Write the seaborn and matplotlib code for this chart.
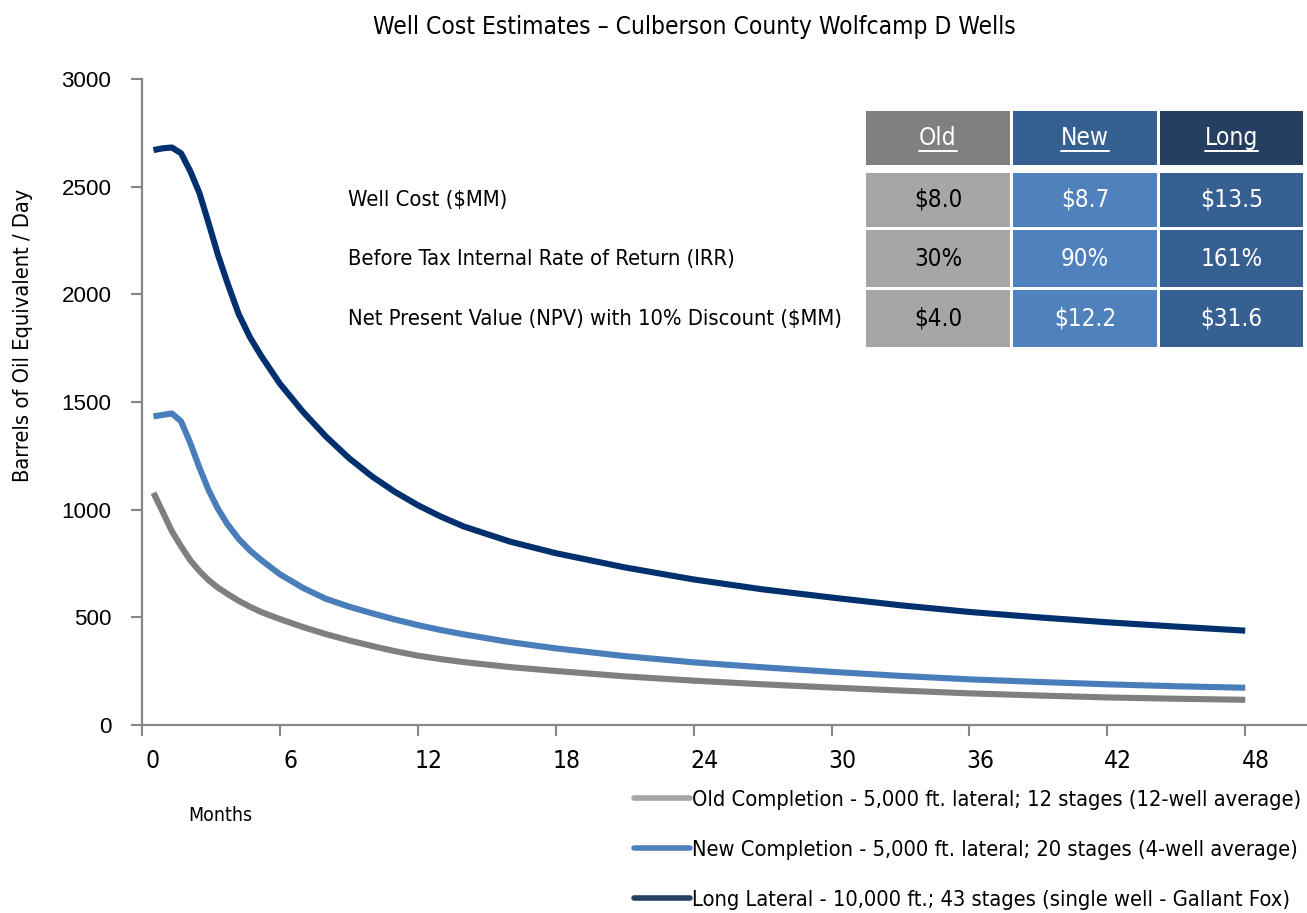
import numpy as np
import pandas as pd
import matplotlib
matplotlib.use("Agg")
import matplotlib.pyplot as plt
import matplotlib.transforms as mtransforms
from matplotlib import font_manager as fm
from matplotlib.lines import Line2D
from matplotlib.patches import Rectangle
import seaborn as sns

# production profiles, boe/day by month
months = [0.5, 0.9, 1.3, 1.7, 2.1, 2.5, 2.9, 3.3, 3.7, 4.2, 4.7, 5.2, 6, 7, 8, 9, 10, 11, 12,
          13, 14, 16, 18, 21, 24, 27, 30, 33, 36, 39, 42, 45, 48]
old_boe = [1078, 990, 900, 830, 765, 715, 672, 638, 610, 577, 549, 524, 492, 455, 422, 393, 367, 343, 322,
           306, 292, 269, 251, 226, 206, 189, 174, 160, 147, 137, 128, 122, 117]
new_boe = [1433, 1440, 1447, 1410, 1310, 1195, 1090, 1005, 935, 865, 810, 765, 700, 637, 586, 550, 519, 490, 464,
           441, 421, 385, 356, 320, 291, 268, 247, 228, 212, 200, 189, 180, 173]
long_boe = [2670, 2678, 2682, 2655, 2572, 2470, 2330, 2185, 2058, 1910, 1800, 1712, 1585, 1455, 1340, 1240, 1155, 1083, 1021,
            968, 922, 852, 798, 732, 676, 630, 592, 556, 525, 500, 477, 457, 438]

series_names = ["Old Completion - 5,000 ft. lateral; 12 stages (12-well average)",
                "New Completion - 5,000 ft. lateral; 20 stages (4-well average)",
                "Long Lateral - 10,000 ft.; 43 stages (single well - Gallant Fox)"]
line_colors = ["#7f7f7f", "#4a7ebb", "#00306e"]
legend_colors = ["#a6a6a6", "#4f81bd", "#243f60"]

x_ticks = [0, 6, 12, 18, 24, 30, 36, 42, 48]
y_ticks = [0, 500, 1000, 1500, 2000, 2500, 3000]

table_cols = ["Old", "New", "Long"]
table_rows = ["Well Cost ($MM)",
              "Before Tax Internal Rate of Return (IRR)",
              "Net Present Value (NPV) with 10% Discount ($MM)"]
table_vals = [["$8.0", "$8.7", "$13.5"],
              ["30%", "90%", "161%"],
              ["$4.0", "$12.2", "$31.6"]]
head_colors = ["#808080", "#376092", "#263f60"]
body_colors = ["#a6a6a6", "#4f81bd", "#376092"]
body_text = ["black", "white", "white"]

W, H = 1307, 913

# pick a narrow face if one is installed, else Liberation Sans
family, stretch = "Liberation Sans", "normal"
for f in fm.fontManager.ttflist:
    fn = f.fname.lower()
    if "narrow" in fn or "condensed" in fn or f.stretch in ("condensed", "semi-condensed"):
        if "mono" in fn or "serif" in fn or "bold" in fn or "oblique" in fn or "italic" in fn:
            continue
        family, stretch = f.name, f.stretch
        break

sns.set_theme(style="white")
plt.rcParams['font.family'] = [family, 'DejaVu Sans']
plt.rcParams['font.stretch'] = stretch
plt.rcParams['text.color'] = 'black'

def px(x, y):
    return x / W, 1 - y / H

df = pd.DataFrame({
    "month": months * 3,
    "boe": old_boe + new_boe + long_boe,
    "well": sum([[n] * len(months) for n in series_names], []),
})

fig = plt.figure(figsize=(W / 100, H / 100), dpi=100)
r = fig.canvas.get_renderer()

def width_of(t, vertical=False):
    bb = t.get_window_extent(r)
    return bb.height if vertical else bb.width

def fit(texts, target, vertical=False):
    k = target / width_of(texts[0], vertical)
    for t in texts:
        t.set_fontsize(t.get_fontsize() * k)

ax = fig.add_axes([142 / W, 1 - 725 / H, (W - 142) / W, (725 - 79) / H])
sns.lineplot(data=df, x="month", y="boe", hue="well", palette=dict(zip(series_names, line_colors)),
             linewidth=4.4, legend=False, estimator=None, ax=ax)
for l in ax.lines:
    l.set_solid_capstyle("butt")
    l.set_solid_joinstyle("round")

ax.set_xlim(0, (W - 142) / (137.9 / 6))
ax.set_ylim(0, 3000)
ax.set_xticks(x_ticks)
ax.set_yticks(y_ticks)
ax.set_xlabel("")
ax.set_ylabel("")
for s in ["top", "right"]:
    ax.spines[s].set_visible(False)
for s in ["left", "bottom"]:
    ax.spines[s].set_color("#878787")
    ax.spines[s].set_linewidth(1.6)
ax.tick_params(axis="both", direction="out", length=8, width=1.5, color="#878787",
               bottom=True, left=True, labelcolor="black")

# tick label sizes fitted to the reference
probe = fig.text(0, 0, "12", fontsize=20)
xs = 20 * 28 / width_of(probe)
probe.remove()
probe = fig.text(0, 0, "3000", fontsize=20, family="Liberation Sans", stretch="normal")
ys = 20 * 50 / width_of(probe)
probe.remove()
ax.tick_params(axis="x", labelsize=xs, pad=9)
ax.tick_params(axis="y", labelsize=ys, pad=14)
for t in ax.get_yticklabels():
    t.set_family("Liberation Sans")
    t.set_stretch("normal")
shift = mtransforms.ScaledTranslation(11 / 100, 0, fig.dpi_scale_trans)
for t in ax.get_xticklabels():
    t.set_transform(t.get_transform() + shift)

title = fig.text(*px(694, 27), "Well Cost Estimates \u2013 Culberson County Wolfcamp D Wells",
                 ha="center", va="center", fontsize=17)
fit([title], 638)
months_lbl = fig.text(*px(220, 815), "Months", ha="center", va="center", fontsize=15)
fit([months_lbl], 64)
ylab = fig.text(*px(23, 335), "Barrels of Oil Equivalent / Day", ha="center", va="center",
                rotation=90, fontsize=15)
fit([ylab], 294, vertical=True)

# table in the upper right
col_x = [(866, 1010), (1013, 1157), (1160, 1303)]
head_y = (111, 165)
row_y = [(173, 227), (230, 287), (290, 347)]
head_texts, row_texts, val_texts = [], [], []
for j, name in enumerate(table_cols):
    x0, x1 = col_x[j]
    fig.add_artist(Rectangle(px(x0, head_y[1]), (x1 - x0) / W, (head_y[1] - head_y[0]) / H,
                             transform=fig.transFigure, facecolor=head_colors[j], edgecolor="none"))
    head_texts.append(fig.text(*px((x0 + x1) / 2, 138), name, ha="center", va="center",
                               fontsize=17, color="white"))
for i, label in enumerate(table_rows):
    y0, y1 = row_y[i]
    row_texts.append(fig.text(*px(348, (y0 + y1) / 2), label, ha="left", va="center",
                              fontsize=15, color="black"))
    for j in range(3):
        x0, x1 = col_x[j]
        fig.add_artist(Rectangle(px(x0, y1), (x1 - x0) / W, (y1 - y0) / H,
                                 transform=fig.transFigure, facecolor=body_colors[j], edgecolor="none"))
        val_texts.append(fig.text(*px((x0 + x1) / 2, (y0 + y1) / 2), table_vals[i][j],
                                  ha="center", va="center", fontsize=17, color=body_text[j]))
fit([head_texts[2]] + head_texts[:2], 53)
fit([row_texts[2]] + row_texts[:2], 497)
fit([val_texts[2]] + val_texts, 62)

for t in head_texts:
    bb = t.get_window_extent(r)
    fig.add_artist(Line2D([bb.x0 / W, bb.x1 / W], [(bb.y0 - 1) / H] * 2,
                          transform=fig.transFigure, color="white", linewidth=1.4))

# legend below the axes, sized to the reference text width
probe = fig.text(0, 0, series_names[0], fontsize=16)
lfs = 16 * 613 / width_of(probe)
probe.set_fontsize(lfs)
row_h = width_of(probe, vertical=True)
probe.remove()
lfs_px = lfs * 100 / 72
handles = [Line2D([], [], color=c, linewidth=4, solid_capstyle="round") for c in legend_colors]
fig.legend(handles, series_names, loc="center left", bbox_to_anchor=px(634, 850), frameon=False,
           fontsize=lfs, handlelength=56 / lfs_px, handletextpad=2 / lfs_px,
           labelspacing=(50 - row_h) / lfs_px, borderpad=0, borderaxespad=0)

fig.savefig("out.png", dpi=100)
